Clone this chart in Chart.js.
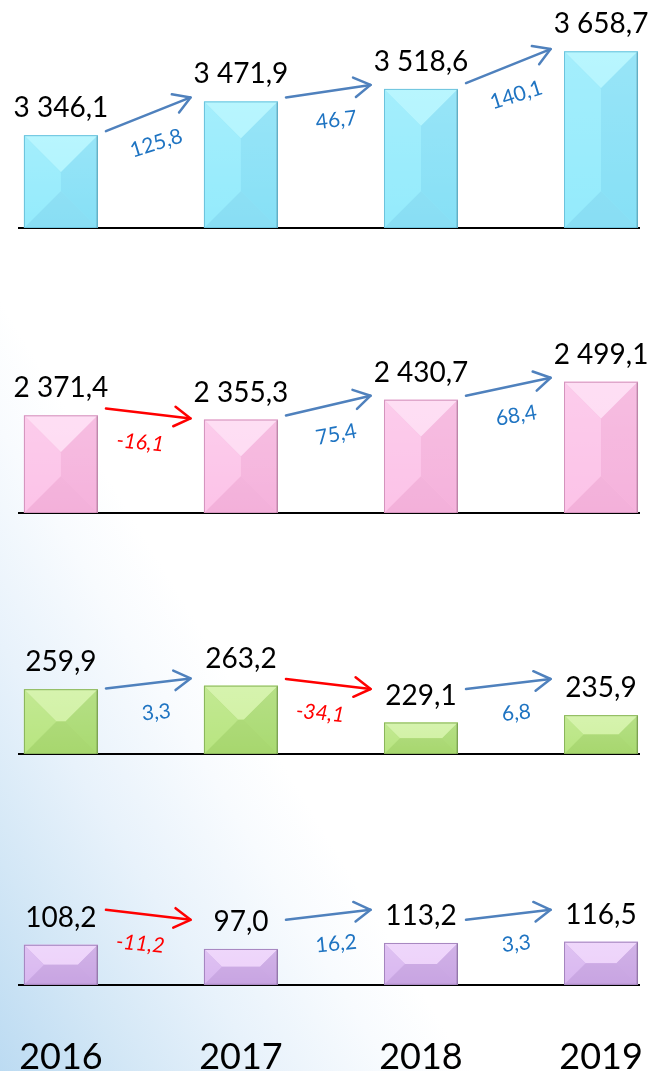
<!DOCTYPE html>
<html>
<head>
<meta charset="utf-8">
<script src="https://cdn.jsdelivr.net/npm/chart.js@4.4.1/dist/chart.umd.min.js"></script>
<style>
  html, body { margin: 0; padding: 0; }
  body {
    width: 654px; height: 1071px; overflow: hidden; position: relative;
    background: linear-gradient(to top right, #bcdbf2 0%, #d3e7f6 10%, #e8f2fb 20%, #f8fbfe 30%, #ffffff 36%);
  }
  .panel { position: absolute; left: 0; width: 654px; }
  canvas { display: block; }
</style>
</head>
<body>
<div class="panel" style="top:0px"><canvas id="c1" width="654" height="230"></canvas></div>
<div class="panel" style="top:250px"><canvas id="c2" width="654" height="265"></canvas></div>
<div class="panel" style="top:516px"><canvas id="c3" width="654" height="240"></canvas></div>
<div class="panel" style="top:800px"><canvas id="c4" width="654" height="330"></canvas></div>
<script>
// ---- data ----
const years = [2016, 2017, 2018, 2019];
const yearLabels = ['2016', '2017', '2018', '2019'];
const seriesA = [3346.1, 3471.9, 3518.6, 3658.7];   // cyan panel
const seriesB = [2371.4, 2355.3, 2430.7, 2499.1];   // pink panel
const seriesC = [259.9, 263.2, 229.1, 235.9];       // green panel
const seriesD = [108.2, 97.0, 113.2, 116.5];        // purple panel

// ---- styles ----
const palettes = {
  cyan:   { top: '#acf4fe', left: '#94ebfc', right: '#86e0f6', bottom: '#88def4', mid: '#8ee6f9', edge: '#6cc3dd' },
  pink:   { top: '#fed9f2', left: '#fcc3e8', right: '#f5b2dc', bottom: '#f3b0da', mid: '#f8b8e0', edge: '#d494bd' },
  green:  { top: '#cff1a0', left: '#b8e580', right: '#a9da71', bottom: '#a7d76e', mid: '#aedc75', edge: '#8ab65b' },
  purple: { top: '#ecd0fa', left: '#d9b7f0', right: '#c9a5e3', bottom: '#c8a4e2', mid: '#ceabe8', edge: '#a585bf' }
};

function fmt(v) {
  const parts = Math.abs(v).toFixed(1).split('.');
  const intPart = parts[0].replace(/\B(?=(\d{3})+(?!\d))/g, ' ');
  return (v < 0 ? '-' : '') + intPart + ',' + parts[1];
}

function poly(ctx, pts, color) {
  ctx.beginPath();
  ctx.moveTo(pts[0][0], pts[0][1]);
  for (let i = 1; i < pts.length; i++) ctx.lineTo(pts[i][0], pts[i][1]);
  ctx.closePath();
  ctx.fillStyle = color;
  ctx.fill();
}

function drawBevelBar(ctx, bar, c) {
  const x0 = bar.x - bar.width / 2, x1 = bar.x + bar.width / 2;
  const y0 = Math.min(bar.y, bar.base), y1 = Math.max(bar.y, bar.base);
  const w = x1 - x0, h = y1 - y0;
  const d = Math.min(w, h) / 2;
  const ix0 = x0 + d, ix1 = x1 - d, iy0 = y0 + d, iy1 = y1 - d;
  ctx.save();
  poly(ctx, [[x0, y0], [x1, y0], [x1, y1], [x0, y1]], c.mid);
  poly(ctx, [[x0, y0], [x1, y0], [ix1, iy0], [ix0, iy0]], c.top);
  poly(ctx, [[x0, y1], [x1, y1], [ix1, iy1], [ix0, iy1]], c.bottom);
  poly(ctx, [[x0, y0], [ix0, iy0], [ix0, iy1], [x0, y1]], c.left);
  poly(ctx, [[x1, y0], [ix1, iy0], [ix1, iy1], [x1, y1]], c.right);
  if (ix1 > ix0 && iy1 > iy0) poly(ctx, [[ix0, iy0], [ix1, iy0], [ix1, iy1], [ix0, iy1]], c.mid);
  const g = ctx.createLinearGradient(0, y0, 0, y1);
  g.addColorStop(0, 'rgba(255,255,255,0.15)');
  g.addColorStop(1, 'rgba(255,255,255,0)');
  ctx.fillStyle = g;
  ctx.fillRect(x0, y0, w, h);
  ctx.strokeStyle = c.edge;
  ctx.lineWidth = 1;
  ctx.strokeRect(x0 + 0.5, y0 + 0.5, w - 1, h - 1);
  ctx.fillStyle = 'rgba(0,0,0,0.10)';
  ctx.fillRect(x1 - 2, y0 + 1, 2, h - 1);
  ctx.restore();
}

function drawArrow(ctx, xa, ya, xb, yb, color) {
  ctx.save();
  ctx.strokeStyle = color;
  ctx.lineWidth = 2.5;
  ctx.lineCap = 'round';
  ctx.lineJoin = 'round';
  ctx.beginPath();
  ctx.moveTo(xa, ya);
  ctx.lineTo(xb, yb);
  ctx.stroke();
  const a = Math.atan2(yb - ya, xb - xa), L = 19, s = Math.PI / 5.8;
  ctx.beginPath();
  ctx.moveTo(xb - L * Math.cos(a - s), yb - L * Math.sin(a - s));
  ctx.lineTo(xb, yb);
  ctx.lineTo(xb - L * Math.cos(a + s), yb - L * Math.sin(a + s));
  ctx.stroke();
  ctx.restore();
}

function makeDecoPlugin(values, pal) {
  return {
    id: 'deco',
    afterDatasetsDraw(chart) {
      const ctx = chart.ctx;
      const bars = chart.getDatasetMeta(0).data;
      bars.forEach(b => drawBevelBar(ctx, b, pal));
    },
    afterDraw(chart) {
      const ctx = chart.ctx;
      const bars = chart.getDatasetMeta(0).data;
      ctx.save();
      ctx.font = '28px Lato';
      ctx.fillStyle = '#000';
      ctx.textAlign = 'center';
      ctx.textBaseline = 'alphabetic';
      bars.forEach((b, i) => ctx.fillText(fmt(values[i]), b.x, b.y - 18));
      ctx.restore();
      for (let i = 0; i < bars.length - 1; i++) {
        const b0 = bars[i], b1 = bars[i + 1];
        const delta = Math.round((values[i + 1] - values[i]) * 10) / 10;
        const step = b1.x - b0.x;
        const xs = b0.x + 0.25 * step, xe = b1.x - 0.28 * step;
        const midY = Math.min((b0.y + b1.y) / 2 - 4, b0.base - 70);
        let rise;
        if (delta < 0) rise = 10;
        else rise = -Math.max(10, Math.min(34, b0.y - b1.y));
        const ys = midY - rise / 2, ye = midY + rise / 2;
        const neg = delta < 0;
        drawArrow(ctx, xs, ys, xe, ye, neg ? '#ff0000' : '#4f81bd');
        const ang = Math.atan2(ye - ys, xe - xs) * 0.8;
        const lx = (xs + xe) / 2 + (neg ? -8 : 8), ly = midY + 29;
        ctx.save();
        ctx.translate(lx, ly);
        ctx.rotate(ang);
        ctx.font = (neg ? 'italic ' : '') + '21px Lato';
        ctx.fillStyle = neg ? '#ff0000' : '#1f74c2';
        ctx.textAlign = 'center';
        ctx.textBaseline = 'middle';
        ctx.fillText(fmt(delta), 0, 0);
        ctx.restore();
      }
    }
  };
}

function buildPanel(id, values, pal, yMin, yMax, showYears) {
  const canvas = document.getElementById(id);
  return new Chart(canvas, {
    type: 'bar',
    data: {
      datasets: [{
        data: years.map((yr, i) => ({ x: yr, y: values[i] })),
        base: yMin,
        backgroundColor: 'rgba(0,0,0,0)',
        borderWidth: 0,
        barThickness: 74
      }]
    },
    options: {
      responsive: false,
      animation: false,
      devicePixelRatio: 1,
      layout: { padding: { left: 19, right: 15, top: 0, bottom: showYears ? 0 : 2 } },
      plugins: { legend: { display: false }, tooltip: { enabled: false } },
      scales: {
        x: {
          type: 'linear',
          min: years[0] - 0.233,
          max: years[years.length - 1] + 0.211,
          offset: false,
          grid: { display: true, drawOnChartArea: false, drawTicks: false, color: 'rgba(0,0,0,0)' },
          border: { display: true, color: '#000', width: 2 },
          afterBuildTicks: axis => { axis.ticks = years.map(v => ({ value: v })); },
          afterFit: axis => { axis.paddingLeft = 0; axis.paddingRight = 0; },
          ticks: {
            display: showYears,
            padding: 51,
            autoSkip: false,
            maxRotation: 0,
            color: '#000',
            font: { family: 'Lato', size: 36 },
            callback: v => yearLabels[years.indexOf(v)]
          }
        },
        y: { display: false, beginAtZero: false, min: yMin, max: yMax }
      }
    },
    plugins: [makeDecoPlugin(values, pal)]
  });
}

function init() {
  buildPanel('c1', seriesA, palettes.cyan, 3000, 3850, false);
  buildPanel('c2', seriesB, palettes.pink, 2000, 3000, false);
  buildPanel('c3', seriesC, palettes.green, 200, 420, false);
  buildPanel('c4', seriesD, palettes.purple, 0, 500, true);
}

Promise.all([
  document.fonts.load('28px Lato'),
  document.fonts.load('italic 21px Lato')
]).then(init, init);
</script>
</body>
</html>
